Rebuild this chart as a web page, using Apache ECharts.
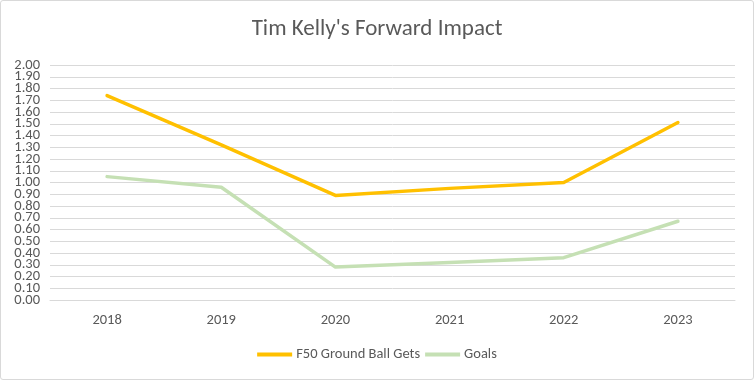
<!DOCTYPE html>
<html><head><meta charset="utf-8">
<script src="https://cdn.jsdelivr.net/npm/echarts@6/dist/echarts.min.js"></script>
<style>
html,body{margin:0;padding:0;background:#fff;}
#c{position:absolute;left:0;top:0;width:752px;height:378px;border:1px solid #d9d9d9;border-radius:3px;}
</style></head><body>
<div id="c"></div>
<script>
const categories = ['2018','2019','2020','2021','2022','2023'];
const f50GroundBallGets = [1.74, 1.32, 0.89, 0.95, 1.00, 1.51];
const goals = [1.05, 0.96, 0.28, 0.32, 0.36, 0.67];
const seriesNames = ['F50 Ground Ball Gets', 'Goals'];
const yTickLabels = ['0.00','0.10','0.20','0.30','0.40','0.50','0.60','0.70','0.80','0.90','1.00',
                     '1.10','1.20','1.30','1.40','1.50','1.60','1.70','1.80','1.90','2.00'];

const chart = echarts.init(document.getElementById('c'));
const font = 'Calibri, Carlito, Lato, sans-serif';
chart.setOption({
  animation: false,
  title: {text: "Tim Kelly's Forward Impact", left: 'center', top: 12,
    textStyle: {fontFamily: font, fontSize: 23, fontWeight: 'normal', color: '#595959'}},
  legend: {bottom: 12, left: 'center', itemWidth: 35, itemHeight: 4, itemGap: 5,
    icon: 'rect',
    textStyle: {fontFamily: font, fontSize: 14.5, color: '#595959', padding: [0,0,0,-1]},
    data: seriesNames},
  grid: {left: 49, right: 18, top: 64, bottom: 79, containLabel: false},
  xAxis: {type: 'category', data: categories, boundaryGap: true,
    axisLine: {show: true, lineStyle: {color: '#d9d9d9', width: 1}},
    axisTick: {show: false},
    axisLabel: {fontFamily: font, fontSize: 14.5, color: '#595959', margin: 13}},
  yAxis: [
    {type: 'value', min: 0, max: 2, interval: 0.1,
      axisLine: {show: false}, axisTick: {show: false}, axisLabel: {show: false},
      splitLine: {lineStyle: {color: '#d9d9d9', width: 1}}},
    {type: 'category', data: yTickLabels, boundaryGap: false, position: 'left',
      axisLine: {show: false}, axisTick: {show: false}, splitLine: {show: false},
      axisLabel: {interval: 0, fontFamily: font, fontSize: 14.5, color: '#595959', margin: 10}}
  ],
  series: [
    {name: seriesNames[0], type: 'line', yAxisIndex: 0, data: f50GroundBallGets, symbol: 'none',
      lineStyle: {color: '#FFC000', width: 3.5, cap: 'round', join: 'round'}, itemStyle: {color: '#FFC000'}},
    {name: seriesNames[1], type: 'line', yAxisIndex: 0, data: goals, symbol: 'none',
      lineStyle: {color: '#C5E0B4', width: 3.5, cap: 'round', join: 'round'}, itemStyle: {color: '#C5E0B4'}}
  ]
});
</script>
</body></html>
